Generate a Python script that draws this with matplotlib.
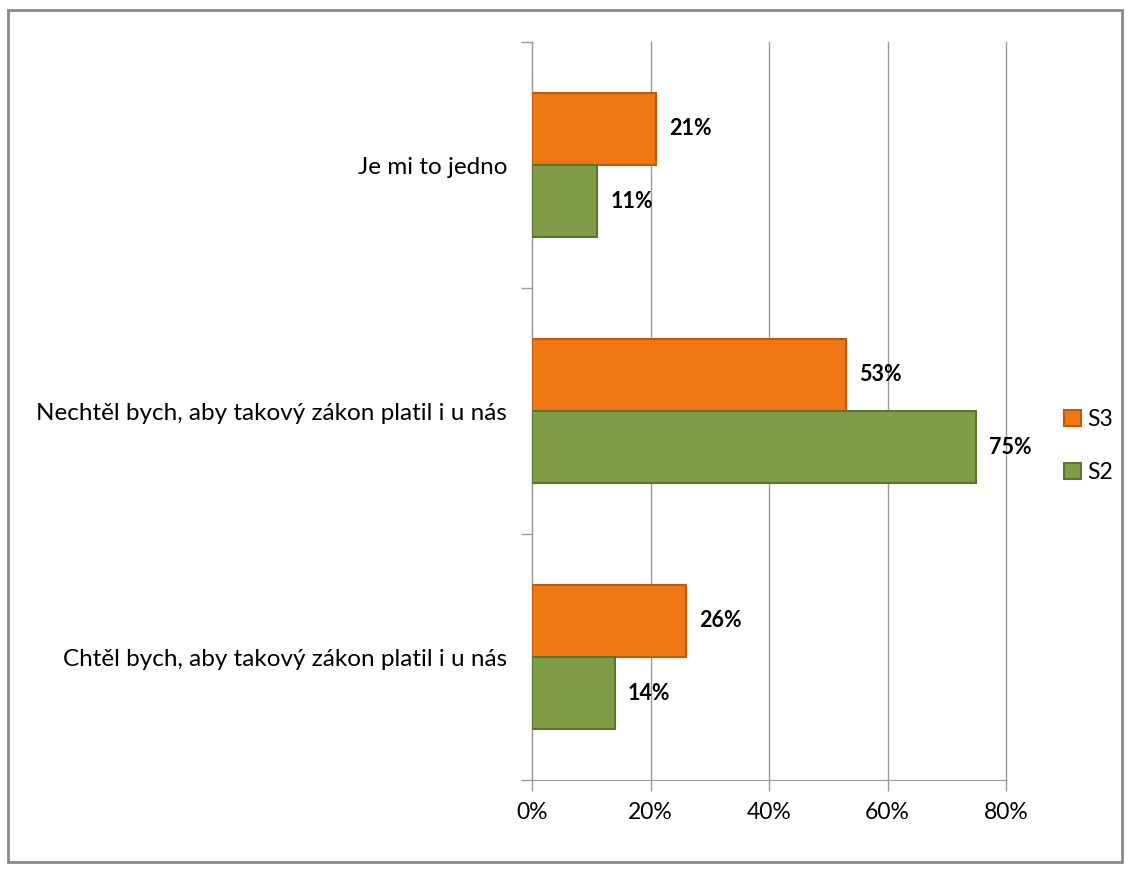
import matplotlib
matplotlib.use('Agg')
import matplotlib.pyplot as plt
from matplotlib.patches import Rectangle
from matplotlib.ticker import FuncFormatter
import numpy as np

plt.rcParams['font.family'] = ['Lato', 'DejaVu Sans']

categories = ['Chtěl bych, aby takový zákon platil i u nás',
              'Nechtěl bych, aby takový zákon platil i u nás',
              'Je mi to jedno']
s3 = [0.26, 0.53, 0.21]
s2 = [0.14, 0.75, 0.11]
x_ticks = [0, 0.2, 0.4, 0.6, 0.8]

fig = plt.figure(figsize=(11.3, 8.72), dpi=100)
ax = fig.add_axes([532/1130, 1-780/872, (1006-532)/1130, (780-42)/872])

y = np.arange(len(categories))
h = 0.293
b3 = ax.barh(y + h/2, s3, height=h, color='#F07814', edgecolor='#C05A0C', linewidth=1.5, label='S3', zorder=3)
b2 = ax.barh(y - h/2, s2, height=h, color='#7F9C47', edgecolor='#5A7530', linewidth=1.5, label='S2', zorder=3)

for bars in (b3, b2):
    for r in bars:
        v = r.get_width()
        ax.text(v + 0.022, r.get_y() + r.get_height()/2, f'{v*100:.0f}%',
                va='center', ha='left', fontsize=15.5, fontweight='bold', color='black')

ax.set_xlim(0, 0.8)
ax.set_ylim(-0.5, 2.5)
ax.set_xticks(x_ticks)
ax.xaxis.set_major_formatter(FuncFormatter(lambda v, p: f'{v*100:.0f}%'))
ax.grid(axis='x', color='#9A9A9A', linewidth=1, zorder=0)
for gl in ax.get_xgridlines():
    gl.set_clip_on(False)
ax.set_yticks([-0.5, 0.5, 1.5, 2.5])
ax.set_yticklabels([])
ax.set_yticks(y, minor=True)
ax.set_yticklabels(categories, minor=True)
ax.tick_params(axis='y', which='minor', length=0, pad=18, labelsize=17.5)
ax.tick_params(axis='y', which='major', length=8, color='#9A9A9A', width=1)
ax.tick_params(axis='x', length=8, color='#9A9A9A', width=1, pad=8, labelsize=16.5, direction='out')
for s in ['top', 'right']:
    ax.spines[s].set_visible(False)
for s in ['left', 'bottom']:
    ax.spines[s].set_color('#9A9A9A')

handles, labels = ax.get_legend_handles_labels()
ax.legend(handles, labels, loc='center left', bbox_to_anchor=(1043/1130, 1-446/872), bbox_transform=fig.transFigure,
          frameon=False, fontsize=16.5, handlelength=0.75, handleheight=0.75, handletextpad=0.3, labelspacing=1.4)

fig.patches.append(Rectangle((8/1130, 10/872), 1114/1130, 852/872, transform=fig.transFigure,
                             fill=False, edgecolor='#8A8A8A', linewidth=2))

fig.savefig('out.png', dpi=100)
